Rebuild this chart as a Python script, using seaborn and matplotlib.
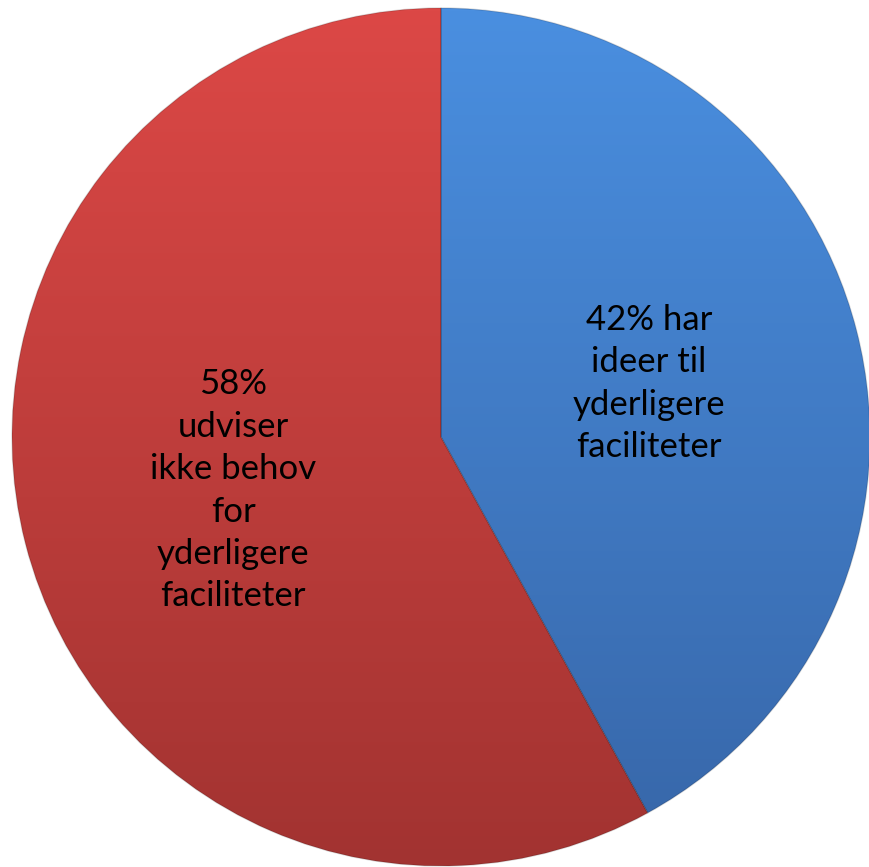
import numpy as np
import matplotlib
matplotlib.use("Agg")
import matplotlib.pyplot as plt
import seaborn as sns
from matplotlib.colors import LinearSegmentedColormap

sns.set_theme(style="white")
plt.rcParams['font.family'] = ['Lato', 'DejaVu Sans']

labels = ["42% har\nideer til\nyderligere\nfaciliteter",
          "58%\nudviser\nikke behov\nfor\nyderligere\nfaciliteter"]
values = [42, 58]
top_colors = ["#4A8FE0", "#DC4846"]
bottom_colors = ["#3766A8", "#A23331"]

fig = plt.figure(figsize=(8.69, 8.67), dpi=100)
ax = fig.add_axes([0, 0, 1, 1])
cx, cy, R = 441, 430, 429
wedges, texts = ax.pie(values, labels=labels, startangle=90, counterclock=False,
                       center=(cx, cy), radius=R, labeldistance=0.5,
                       wedgeprops=dict(linewidth=0),
                       textprops=dict(fontsize=25, color="black", linespacing=1.4))
ax.set_xlim(0, 869)
ax.set_ylim(0, 867)
ax.set_aspect('equal', adjustable='box')
ax.axis('off')

grad = np.linspace(1, 0, 256).reshape(-1, 1)
for w, tc, bc in zip(wedges, top_colors, bottom_colors):
    cmap = LinearSegmentedColormap.from_list("g", [bc, tc])
    im = ax.imshow(grad, cmap=cmap, extent=(cx - R, cx + R, cy - R, cy + R),
                   origin='upper', aspect='auto', zorder=1)
    im.set_clip_path(w)
    w.set_facecolor("none")
    w.set_edgecolor((0, 0, 0, 0.15))
    w.set_linewidth(1)
    w.set_zorder(2)

for t in texts:
    t.set_ha("center")
    t.set_va("center")
    t.set_zorder(3)

ax.set_xlim(0, 869)
ax.set_ylim(0, 867)
fig.savefig("out.png", dpi=100)
